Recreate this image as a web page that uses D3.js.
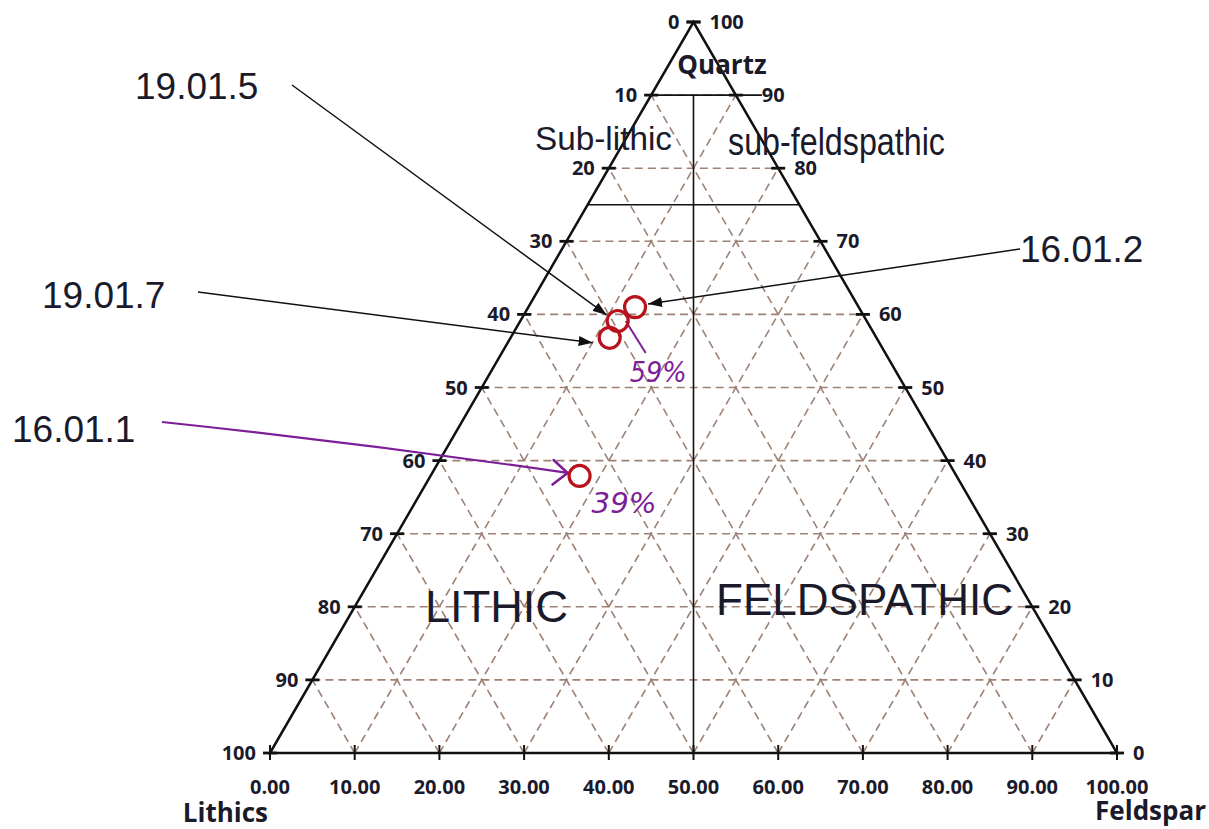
<!DOCTYPE html>
<html>
<head>
<meta charset="utf-8">
<script src="https://cdn.jsdelivr.net/npm/d3@7/dist/d3.min.js"></script>
<style>
  body { margin: 0; background: #fff; }
</style>
</head>
<body>
<div id="viz"></div>
<script>
// sample composition (Q, F, L in %)
var samples = ["16.01.2", "19.01.5", "19.01.7", "16.01.1"];
var quartz = [61.0, 59.1, 56.8, 37.9];
var feldspar = [12.6, 11.5, 11.7, 17.6];
var lithics = [26.4, 29.4, 31.5, 44.5];

// handwritten notes next to two samples
var noteSamples = ["19.01.5", "16.01.1"];
var noteTexts = ["59%", "39%"];

var gridSteps = [10, 20, 30, 40, 50, 60, 70, 80, 90];
var levels = [0, 10, 20, 30, 40, 50, 60, 70, 80, 90, 100];
var bottomLabels = ["0.00", "10.00", "20.00", "30.00", "40.00", "50.00", "60.00", "70.00", "80.00", "90.00", "100.00"];
var leftLabels = ["100", "90", "80", "70", "60", "50", "40", "30", "20", "10", "0"];
var rightLabels = ["0", "10", "20", "30", "40", "50", "60", "70", "80", "90", "100"];

// field boundaries
var quartzBounds = [90, 75];
var feldSplit = 50;

var width = 1209;
var height = 829;

var svg = d3.select("#viz")
    .append("svg")
    .attr("width", width)
    .attr("height", height);

var x = d3.scaleLinear().domain([0, 100]).range([270, 1117]);
var y = d3.scaleLinear().domain([0, 100]).range([753, 22]);

// q = quartz, f = feldspar (percent of total)
function pt(q, f) {
  return [x(f + q / 2), y(q)];
}

var line = d3.line();

// dashed grid
var grid = svg.append("g")
    .attr("fill", "none")
    .attr("stroke", "#9e8173")
    .attr("stroke-width", 1.6)
    .attr("stroke-dasharray", "8,5");

gridSteps.forEach(function(k) {
  grid.append("path").attr("d", line([pt(k, 0), pt(k, 100 - k)]));
  grid.append("path").attr("d", line([pt(0, k), pt(100 - k, k)]));
  grid.append("path").attr("d", line([pt(0, 100 - k), pt(100 - k, 0)]));
});

// classification lines
var bounds = svg.append("g")
    .attr("fill", "none")
    .attr("stroke", "#111")
    .attr("stroke-width", 1.6);

var top90 = pt(quartzBounds[0], 0);
var top90r = pt(quartzBounds[0], 100 - quartzBounds[0]);
bounds.append("path").attr("d", line([top90, [top90r[0] + 26, top90r[1]]]));
bounds.append("path").attr("d", line([pt(quartzBounds[1], 0), pt(quartzBounds[1], 100 - quartzBounds[1])]));
bounds.append("path").attr("d", line([
  pt(quartzBounds[0], (100 - quartzBounds[0]) * feldSplit / 100),
  pt(0, feldSplit)
]));

// triangle outline
svg.append("path")
    .attr("d", line([pt(0, 0), pt(100, 0), pt(0, 100)]) + "Z")
    .attr("fill", "none")
    .attr("stroke", "#111")
    .attr("stroke-width", 2.5)
    .attr("stroke-linejoin", "miter");

// ticks
var ticks = svg.append("g").attr("stroke", "#111").attr("stroke-width", 2.8);
levels.forEach(function(q) {
  var l = pt(q, 0), r = pt(q, 100 - q);
  ticks.append("line").attr("x1", l[0] - 7).attr("x2", l[0] + 7).attr("y1", l[1]).attr("y2", l[1]);
  ticks.append("line").attr("x1", r[0] - 7).attr("x2", r[0] + 7).attr("y1", r[1]).attr("y2", r[1]);
});
levels.forEach(function(f) {
  ticks.append("line").attr("x1", x(f)).attr("x2", x(f)).attr("y1", y(0) - 8).attr("y2", y(0) + 7)
      .attr("stroke-width", 2);
});

// tick labels
var tickFont = "'Open Sans', 'DejaVu Sans', sans-serif";
var labels = svg.append("g")
    .attr("font-family", tickFont)
    .attr("font-weight", 700)
    .attr("font-size", 20)
    .attr("fill", "#1a1a2a");

levels.forEach(function(q, i) {
  var l = pt(q, 0), r = pt(q, 100 - q);
  labels.append("text").attr("x", l[0] - 14).attr("y", l[1] + 7)
      .attr("text-anchor", "end").text(leftLabels[i]);
  labels.append("text").attr("x", r[0] + (q === 90 ? 26 : 16)).attr("y", r[1] + 7)
      .text(rightLabels[i]);
});
levels.forEach(function(f, i) {
  labels.append("text").attr("x", x(f)).attr("y", y(0) + 41)
      .attr("text-anchor", "middle").text(bottomLabels[i]);
});

var axisTitles = svg.append("g")
    .attr("font-family", tickFont)
    .attr("font-weight", 700)
    .attr("font-size", 26)
    .attr("fill", "#1a1a2a");
axisTitles.append("text").attr("x", 722).attr("y", 74).attr("text-anchor", "middle").text("Quartz");
axisTitles.append("text").attr("x", 268).attr("y", 822).attr("text-anchor", "end").text("Lithics");
axisTitles.append("text").attr("x", 1206).attr("y", 820).attr("text-anchor", "end").text("Feldspar");

// field names
var fields = svg.append("g")
    .attr("font-family", "'Liberation Sans', Arial, sans-serif")
    .attr("fill", "#1a1a2a");
fields.append("text").attr("x", 535).attr("y", 150).attr("font-size", 33)
    .attr("textLength", 137).attr("lengthAdjust", "spacingAndGlyphs").text("Sub-lithic");
fields.append("text").attr("x", 728).attr("y", 155).attr("font-size", 38)
    .attr("textLength", 217).attr("lengthAdjust", "spacingAndGlyphs").text("sub-feldspathic");
fields.append("text").attr("x", 425).attr("y", 622).attr("font-size", 45)
    .attr("textLength", 143).attr("lengthAdjust", "spacingAndGlyphs").text("LITHIC");
fields.append("text").attr("x", 716).attr("y", 615).attr("font-size", 44)
    .attr("textLength", 297).attr("lengthAdjust", "spacingAndGlyphs").text("FELDSPATHIC");

// sample positions
var points = samples.map(function(s, i) {
  var tot = quartz[i] + feldspar[i] + lithics[i];
  var p = pt(quartz[i] / tot * 100, feldspar[i] / tot * 100);
  return { name: s, x: p[0], y: p[1] };
});
var byName = {};
points.forEach(function(p) { byName[p.name] = p; });

// annotation layout: label text position, leader start, tip offset from the point
var callouts = [
  { name: "19.01.5", tx: 135, ty: 99, sx: 292, sy: 85, dx: -11, dy: -6, color: "#111", hand: false },
  { name: "19.01.7", tx: 42, ty: 308, sx: 198, sy: 292, dx: -17, dy: 5, color: "#111", hand: false },
  { name: "16.01.2", tx: 1020, ty: 262, sx: 1020, sy: 249, dx: 13, dy: -3, color: "#111", hand: false },
  { name: "16.01.1", tx: 12, ty: 442, sx: 162, sy: 422, dx: -12, dy: -3, color: "#7d1e98", hand: true }
];

svg.append("defs").append("marker")
    .attr("id", "arrow")
    .attr("viewBox", "0 0 14 10")
    .attr("refX", 14)
    .attr("refY", 5)
    .attr("markerWidth", 14)
    .attr("markerHeight", 10)
    .attr("markerUnits", "userSpaceOnUse")
    .attr("orient", "auto")
    .append("path")
    .attr("d", "M0,0L14,5L0,10Z")
    .attr("fill", "#111");

var ann = svg.append("g");
callouts.forEach(function(c) {
  var p = byName[c.name];
  var tip = [p.x + c.dx, p.y + c.dy];
  ann.append("text")
      .attr("x", c.tx).attr("y", c.ty)
      .attr("font-family", "'Liberation Sans', Arial, sans-serif")
      .attr("font-size", 37)
      .attr("fill", "#1a1a2a")
      .text(c.name);
  if (c.hand) {
    var mid = [(c.sx + tip[0]) / 2, (c.sy + tip[1]) / 2 - 4];
    ann.append("path")
        .attr("d", "M" + c.sx + "," + c.sy + "Q" + mid[0] + "," + mid[1] + " " + tip[0] + "," + tip[1])
        .attr("fill", "none").attr("stroke", c.color).attr("stroke-width", 2.2);
    var ang = Math.atan2(tip[1] - mid[1], tip[0] - mid[0]);
    [-0.8, 0.6].forEach(function(a) {
      var b = ang + Math.PI + a;
      ann.append("line")
          .attr("x1", tip[0]).attr("y1", tip[1])
          .attr("x2", tip[0] + 19 * Math.cos(b)).attr("y2", tip[1] + 19 * Math.sin(b))
          .attr("stroke", c.color).attr("stroke-width", 2.6).attr("stroke-linecap", "round");
    });
  } else {
    ann.append("line")
        .attr("x1", c.sx).attr("y1", c.sy)
        .attr("x2", tip[0]).attr("y2", tip[1])
        .attr("stroke", c.color).attr("stroke-width", 1.5)
        .attr("marker-end", "url(#arrow)");
  }
});

// handwritten notes
var notes = svg.append("g")
    .attr("fill", "#7d1e98")
    .attr("font-family", "'DejaVu Sans', sans-serif")
    .attr("font-size", 28);
var noteLayout = [
  { dx: 12, dy: 61, lx1: 8, ly1: 0, lx2: 28, ly2: 32 },
  { dx: 12, dy: 37 }
];
noteSamples.forEach(function(s, i) {
  var p = byName[s];
  var nl = noteLayout[i];
  if (nl.lx1 !== undefined) {
    notes.append("line")
        .attr("x1", p.x + nl.lx1).attr("y1", p.y + nl.ly1)
        .attr("x2", p.x + nl.lx2).attr("y2", p.y + nl.ly2)
        .attr("stroke", "#7d1e98").attr("stroke-width", 2);
  }
  notes.append("text")
      .attr("x", p.x + nl.dx).attr("y", p.y + nl.dy)
      .attr("textLength", i === 0 ? 57 : 65)
      .attr("lengthAdjust", "spacingAndGlyphs")
      .attr("font-style", "italic")
      .text(noteTexts[i]);
});

// sample circles
svg.append("g").selectAll("circle")
    .data(points)
    .enter()
    .append("circle")
    .attr("cx", function(d) { return d.x; })
    .attr("cy", function(d) { return d.y; })
    .attr("r", 10.5)
    .attr("fill", "none")
    .attr("stroke", "#b8121c")
    .attr("stroke-width", 3.2);
</script>
</body>
</html>
